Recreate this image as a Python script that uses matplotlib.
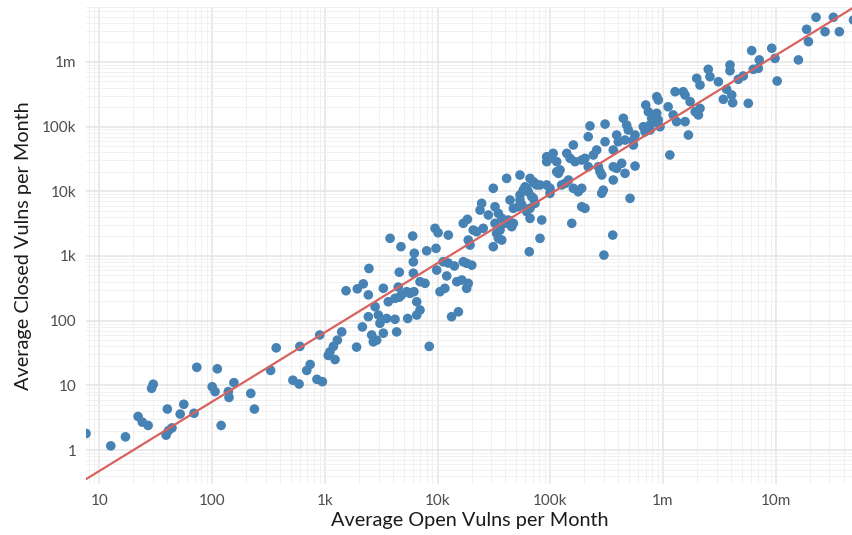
import matplotlib
matplotlib.use("Agg")
import matplotlib.pyplot as plt
from matplotlib.ticker import FixedLocator, LogLocator, NullFormatter
import numpy as np

# values (average vulns per month, per organisation)
open_vulns = [
    7.6, 12.6, 17, 22, 24, 27, 29, 30, 39, 40, 44, 41, 52, 56, 69, 73,
    100, 106, 111, 120, 139, 141, 156, 220, 237, 330, 370, 520, 590, 600,
    690, 740, 850, 950, 900, 1070, 1110, 1190, 1290, 1230, 1410,
    1540, 1940, 2190, 2460, 2430, 1910, 2150, 2430, 2790, 2980, 3080, 2690,
    2600, 2880, 3300, 3300, 3530, 3650, 4190, 4330, 3790, 4190, 4480, 4570,
    4570, 4730, 4800, 5320, 5430, 5690, 6010, 6170, 6090, 6210, 6090, 6530,
    6980, 6530, 6980, 7730, 8000, 8430, 9680, 9490, 10100, 12450, 9820,
    11200, 12400, 14100, 12050, 10500, 11600, 14800, 13300, 15300,
    16900, 18400, 18700, 19400, 20700, 22200, 16900, 18100, 20100, 16400,
    18700, 18100, 23800, 24600, 25400, 28200, 32300, 34600, 31200, 31200,
    32300, 37100, 39600, 42400, 41000, 43900, 35800, 33400, 34600, 37100,
    47000, 45400, 47000, 52000, 53800, 56100, 53800, 53800,
    57500, 61800, 63800, 66100, 70700, 73100, 75700, 81000, 59700, 68400,
    70700, 73100, 66100, 61800, 66100, 83900, 81000, 65100, 92900, 99400,
    106000, 92900, 99400, 99400, 114000, 114000, 118000, 122000, 126000,
    135000, 145000, 140000, 150000, 160000, 166000, 155000, 160000, 177000,
    92900, 190000, 203000,
    190000, 203000, 217000, 190000, 225000, 217000, 241000, 258000, 267000,
    276000, 286000, 306000, 306000, 286000, 295000, 358000, 299000, 362000,
    362000, 388000, 430000, 362000, 460000, 565000, 510000, 445000, 476000,
    492000, 388000, 401000, 460000, 546000, 546000, 565000,
    669000, 692000, 703000, 741000, 794000, 767000, 767000, 849000, 880000,
    880000, 908000, 908000, 940000, 1.11e6, 1.23e6, 1.32e6, 1.15e6, 1.28e6,
    1.51e6, 1.57e6, 1.74e6, 1.57e6, 1.68e6, 1.93e6, 2.06e6, 2.13e6, 1.99e6,
    2.13e6, 2.52e6, 2.61e6, 3.1e6,
    3.43e6, 3.67e6, 3.93e6, 3.93e6, 4.07e6, 4.15e6, 4.66e6, 5.15e6, 5.71e6,
    6.12e6, 6.33e6, 7.01e6, 7.15e6, 9.22e6, 9.86e6, 1.03e7, 1.59e7, 1.88e7,
    1.95e7, 2.28e7, 2.74e7, 3.25e7, 3.67e7, 4.9e7,
]
closed_vulns = [
    1.8, 1.16, 1.6, 3.3, 2.7, 2.4, 9.0, 10.4, 1.7, 4.3, 2.2, 2.0, 3.6, 5.1, 3.7, 19,
    9.5, 8.0, 18, 2.4, 8.0, 6.5, 11, 7.5, 4.3, 17, 38, 12, 10.5, 40,
    17, 21, 12.4, 11.4, 60, 29, 33, 40, 50, 25, 67,
    290, 310, 370, 640, 250, 39, 80, 115, 164, 122, 91, 47,
    60, 50, 64, 316, 108, 196, 105, 67, 1870, 221, 330, 560,
    230, 1390, 250, 280, 108, 264, 2030, 280, 810, 1100, 540, 196,
    146, 122, 400, 377, 1200, 40, 1310, 2670, 2280, 2100, 605,
    813, 777, 700, 490, 280, 316, 400, 115, 137,
    3190, 3680, 1760, 1470, 2510, 2370, 813, 770, 720, 424,
    377, 316, 5100, 6500, 2670, 4290, 5760, 4550, 11100, 1390,
    3190, 3810, 3190, 3590, 15800, 7310, 2510, 2230, 1870, 1760,
    3190, 2830, 5440, 5760, 7310, 6110, 17800, 8730,
    10400, 11100, 9800, 15800, 14000, 13200, 12500, 12500, 11700, 8220,
    7760, 6500, 5440, 4820, 3810, 3590, 1870, 1160, 34100, 32200,
    38500, 12500, 11100, 9290, 28600, 20000, 18900, 21300, 12500,
    13200, 14900, 38500, 32200, 51800, 28600, 3190, 11100, 9820,
    28600, 5760, 5440,
    30300, 32200, 23900, 11100, 102000, 69500, 36300, 43400, 23900,
    20000, 17800, 109000, 58200, 9290, 10400, 2100, 1030, 43400,
    23900, 22600, 27000, 14900, 18900, 24500, 7760, 134000, 105000,
    88300, 73900, 58200, 61800, 61800, 51800, 73900,
    99300, 83100, 215000, 169000, 134000, 105000, 88300, 119000, 160000,
    289000, 257000, 126000, 99300, 202000, 151000, 119000, 36300, 345000,
    345000, 307000, 242000, 119000, 73900, 169000, 151000, 191000, 556000,
    438000, 766000, 589000, 492000,
    263000, 376000, 893000, 728000, 307000, 233000, 537000, 604000, 228000,
    1.49e6, 766000, 794000, 1.07e6, 1.62e6, 1.13e6, 505000, 1.07e6, 3.18e6,
    2.05e6, 4.88e6, 2.92e6, 4.88e6, 2.92e6, 4.43e6,
]

x_ticks = [10, 100, 1e3, 1e4, 1e5, 1e6, 1e7]
x_tick_labels = ["10", "100", "1k", "10k", "100k", "1m", "10m"]
y_ticks = [1, 10, 100, 1e3, 1e4, 1e5, 1e6]
y_tick_labels = ["1", "10", "100", "1k", "10k", "100k", "1m"]

plt.rcParams["font.family"] = ["Lato", "DejaVu Sans"]

fig = plt.figure(figsize=(8.53, 5.35), dpi=100)
ax = fig.add_axes([0.1008, 0.0953, 0.8992, 0.8916])

ax.set_xscale("log")
ax.set_yscale("log")
ax.set_xlim(7.59, 4.85e7)
ax.set_ylim(0.2985, 7.03e6)

# grid like ggplot theme_minimal
ax.xaxis.set_major_locator(FixedLocator(x_ticks))
ax.yaxis.set_major_locator(FixedLocator(y_ticks))
ax.xaxis.set_minor_locator(LogLocator(base=10, subs=np.arange(2, 10)))
ax.yaxis.set_minor_locator(LogLocator(base=10, subs=np.arange(2, 10)))
ax.xaxis.set_minor_formatter(NullFormatter())
ax.yaxis.set_minor_formatter(NullFormatter())
ax.set_xticklabels(x_tick_labels)
ax.set_yticklabels(y_tick_labels)
ax.grid(True, which="major", color="#e4e4e4", linewidth=1.1)
ax.grid(True, which="minor", color="#efefef", linewidth=0.6)
ax.set_axisbelow(True)
ax.tick_params(which="both", length=0, labelsize=11, colors="#4d4d4d", pad=7)
for s in ax.spines.values():
    s.set_visible(False)

ax.scatter(open_vulns, closed_vulns, s=48, color="#4682b4", edgecolors="none",
           zorder=3)

# linear fit in log-log space
lx = np.log10(open_vulns)
ly = np.log10(closed_vulns)
slope, intercept = np.polyfit(lx, ly, 1)
xs = np.array(ax.get_xlim())
ax.plot(xs, 10 ** (intercept + slope * np.log10(xs)), color="#d9625f",
        linewidth=1.6, zorder=4)

ax.set_xlabel("Average Open Vulns per Month", fontsize=14.3, color="#1a1a1a",
              labelpad=3)
ax.set_ylabel("Average Closed Vulns per Month", fontsize=14.3, color="#1a1a1a",
              labelpad=7)

fig.savefig("out.png", dpi=100)
